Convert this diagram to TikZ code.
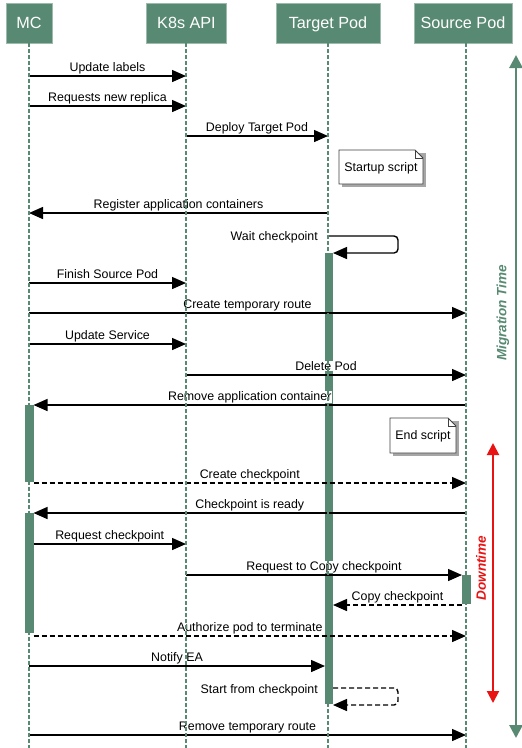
\documentclass[tikz,border=0pt]{standalone}
\usepackage{fontspec}
\setmainfont{Liberation Sans}
\usetikzlibrary{arrows.meta}
\definecolor{sgreen}{HTML}{588A73}
\definecolor{hbord}{HTML}{9CBBAD}
\definecolor{sred}{HTML}{E81414}
\begin{document}
\begin{tikzpicture}[x=1pt,y=-1pt,
  head/.style={rectangle, fill=sgreen, draw=hbord, line width=0.8pt, text=white,
    font=\fontsize{16.2}{19}\selectfont, minimum height=40pt, inner sep=0pt,
    text height=11.6pt, text depth=0pt},
  life/.style={sgreen, line width=2.2pt, dash pattern=on 3.5pt off 2.5pt},
  actbar/.style={fill=sgreen, draw=none},
  msg/.style={line width=1.4pt, -{Triangle[length=14pt,width=12pt]}},
  rmsg/.style={msg, dash pattern=on 5pt off 3pt},
  lbl/.style={font=\fontsize{12.4}{14}\selectfont, fill=white, inner sep=0.4pt, anchor=base, yshift=4.5pt},
  lbr/.style={font=\fontsize{12.4}{14}\selectfont, inner sep=0pt, anchor=base east},
  notebox/.style={fill=white, draw=black!75, line width=0.8pt},
  noteshadow/.style={fill=black!35},
  notetxt/.style={font=\fontsize{12.4}{14}\selectfont, inner sep=0pt},
]
\useasboundingbox[fill=white] (0,0) rectangle (522,748);

% headers
\node[head, minimum width=46pt] (MC) at (29,23) {MC};
\node[head, minimum width=80pt] (K8s) at (186.5,23) {K8s API};
\node[head, minimum width=104pt] (TP) at (328,23) {Target Pod};
\node[head, minimum width=98pt] (SP) at (463,23) {Source Pod};

% activation bars
\fill[actbar] (24.5,405) rectangle (33.5,482);
\fill[actbar] (24.5,513) rectangle (33.5,633);
\fill[actbar] (325,253) rectangle (333,704);
\fill[actbar] (462,575) rectangle (471,604);

% notes
\fill[noteshadow] (341.5,152.5) rectangle (425.5,186.5);
\draw[notebox] (339,150) -- (415,150) -- (423,158) -- (423,184) -- (339,184) -- cycle;
\draw[line width=0.8pt, draw=black!75] (415,150) -- (415,158) -- (423,158);
\node[notetxt] (n1) at (381,168) {Startup script};

\fill[noteshadow] (392.5,420.5) rectangle (458.5,455.5);
\draw[notebox] (390,418) -- (448,418) -- (456,426) -- (456,453) -- (390,453) -- cycle;
\draw[line width=0.8pt, draw=black!75] (448,418) -- (448,426) -- (456,426);
\node[notetxt] (n2) at (423,436) {End script};

% messages
\coordinate (a1) at (29,76);  \coordinate (b1) at (186,76);
\draw[msg] (a1) -- (b1) node[midway, lbl] (l1) {Update labels};
\coordinate (a2) at (29,106);  \coordinate (b2) at (186,106);
\draw[msg] (a2) -- (b2) node[midway, lbl] (l2) {Requests new replica};
\coordinate (a3) at (186,136);  \coordinate (b3) at (328,136);
\draw[msg] (a3) -- (b3) node[midway, lbl] (l3) {Deploy Target Pod};
\coordinate (a4) at (328,213);  \coordinate (b4) at (29,213);
\draw[msg] (a4) -- (b4) node[midway, lbl] (l4) {Register application containers};

\coordinate (w1) at (328,236); \coordinate (wx) at (398,0); \coordinate (w3) at (333,253);
\draw[msg, rounded corners=4pt] (w1) -- (wx |- w1) -- (wx |- w3) -- (w3);
\node[lbr] (l5) at (318,240) {Wait checkpoint};

\coordinate (a6) at (29,283);  \coordinate (b6) at (186,283);
\draw[msg] (a6) -- (b6) node[midway, lbl] (l6) {Finish Source Pod};
\coordinate (a7) at (29,313);  \coordinate (b7) at (466,313);
\draw[msg] (a7) -- (b7) node[midway, lbl] (l7) {Create temporary route};
\coordinate (a8) at (29,344);  \coordinate (b8) at (186,344);
\draw[msg] (a8) -- (b8) node[midway, lbl] (l8) {Update Service};
\coordinate (a9) at (186,375);  \coordinate (b9) at (466,375);
\draw[msg] (a9) -- (b9) node[midway, lbl] (l9) {Delete Pod};
\coordinate (a10) at (466,405);  \coordinate (b10) at (33.5,405);
\draw[msg] (a10) -- (b10) node[midway, lbl] (l10) {Remove application container};
\coordinate (a11) at (33.5,483);  \coordinate (b11) at (466,483);
\draw[rmsg] (a11) -- (b11) node[midway, lbl] (l11) {Create checkpoint};
\coordinate (a12) at (466,513);  \coordinate (b12) at (33.5,513);
\draw[msg] (a12) -- (b12) node[midway, lbl] (l12) {Checkpoint is ready};
\coordinate (a13) at (33.5,544);  \coordinate (b13) at (186,544);
\draw[msg] (a13) -- (b13) node[midway, lbl] (l13) {Request checkpoint};
\coordinate (a14) at (186,575);  \coordinate (b14) at (462,575);
\draw[msg] (a14) -- (b14) node[midway, lbl] (l14) {Request to Copy checkpoint};
\coordinate (a15) at (462,605);  \coordinate (b15) at (333,605);
\draw[rmsg] (a15) -- (b15) node[midway, lbl] (l15) {Copy checkpoint};
\coordinate (a16) at (33.5,636);  \coordinate (b16) at (466,636);
\draw[rmsg] (a16) -- (b16) node[midway, lbl] (l16) {Authorize pod to terminate};
\coordinate (a17) at (29,666);  \coordinate (b17) at (325,666);
\draw[msg] (a17) -- (b17) node[midway, lbl] (l17) {Notify EA};

\coordinate (s1) at (333,688); \coordinate (s3) at (333,705);
\draw[rmsg, rounded corners=4pt] (s1) -- (wx |- s1) -- (wx |- s3) -- (s3);
\node[lbr] (l18) at (318,693) {Start from checkpoint};

\coordinate (a19) at (29,735);  \coordinate (b19) at (466,735);
\draw[msg] (a19) -- (b19) node[midway, lbl] (l19) {Remove temporary route};

% lifelines
\coordinate (bot) at (0,748);
\draw[life] (MC.south) -- (MC.south |- bot);
\coordinate (kx) at (186,0);
\draw[life] (kx |- K8s.south) -- (kx |- bot);
\draw[life] (TP.south) -- (TP.south |- bot);
\coordinate (sx) at (466,0);
\draw[life] (sx |- SP.south) -- (sx |- bot);

% migration time / downtime
\coordinate (mt1) at (516,55); \coordinate (mt2) at (516,738);
\draw[sgreen, line width=2.8pt, {Triangle[length=13pt,width=13pt]}-{Triangle[length=13pt,width=13pt]}] (mt1) -- (mt2);
\node[rotate=90, text=sgreen, font=\bfseries\itshape\fontsize{13.5}{16}\selectfont] (mtl) at (503,313) {Migration Time};
\coordinate (dt1) at (493,443); \coordinate (dt2) at (493,703);
\draw[sred, line width=2pt, {Triangle[length=12pt,width=12pt]}-{Triangle[length=12pt,width=12pt]}] (dt1) -- (dt2);
\node[rotate=90, text=sred, font=\bfseries\itshape\fontsize{13.5}{16}\selectfont] (dtl) at (481,568) {Downtime};
\end{tikzpicture}
\end{document}
